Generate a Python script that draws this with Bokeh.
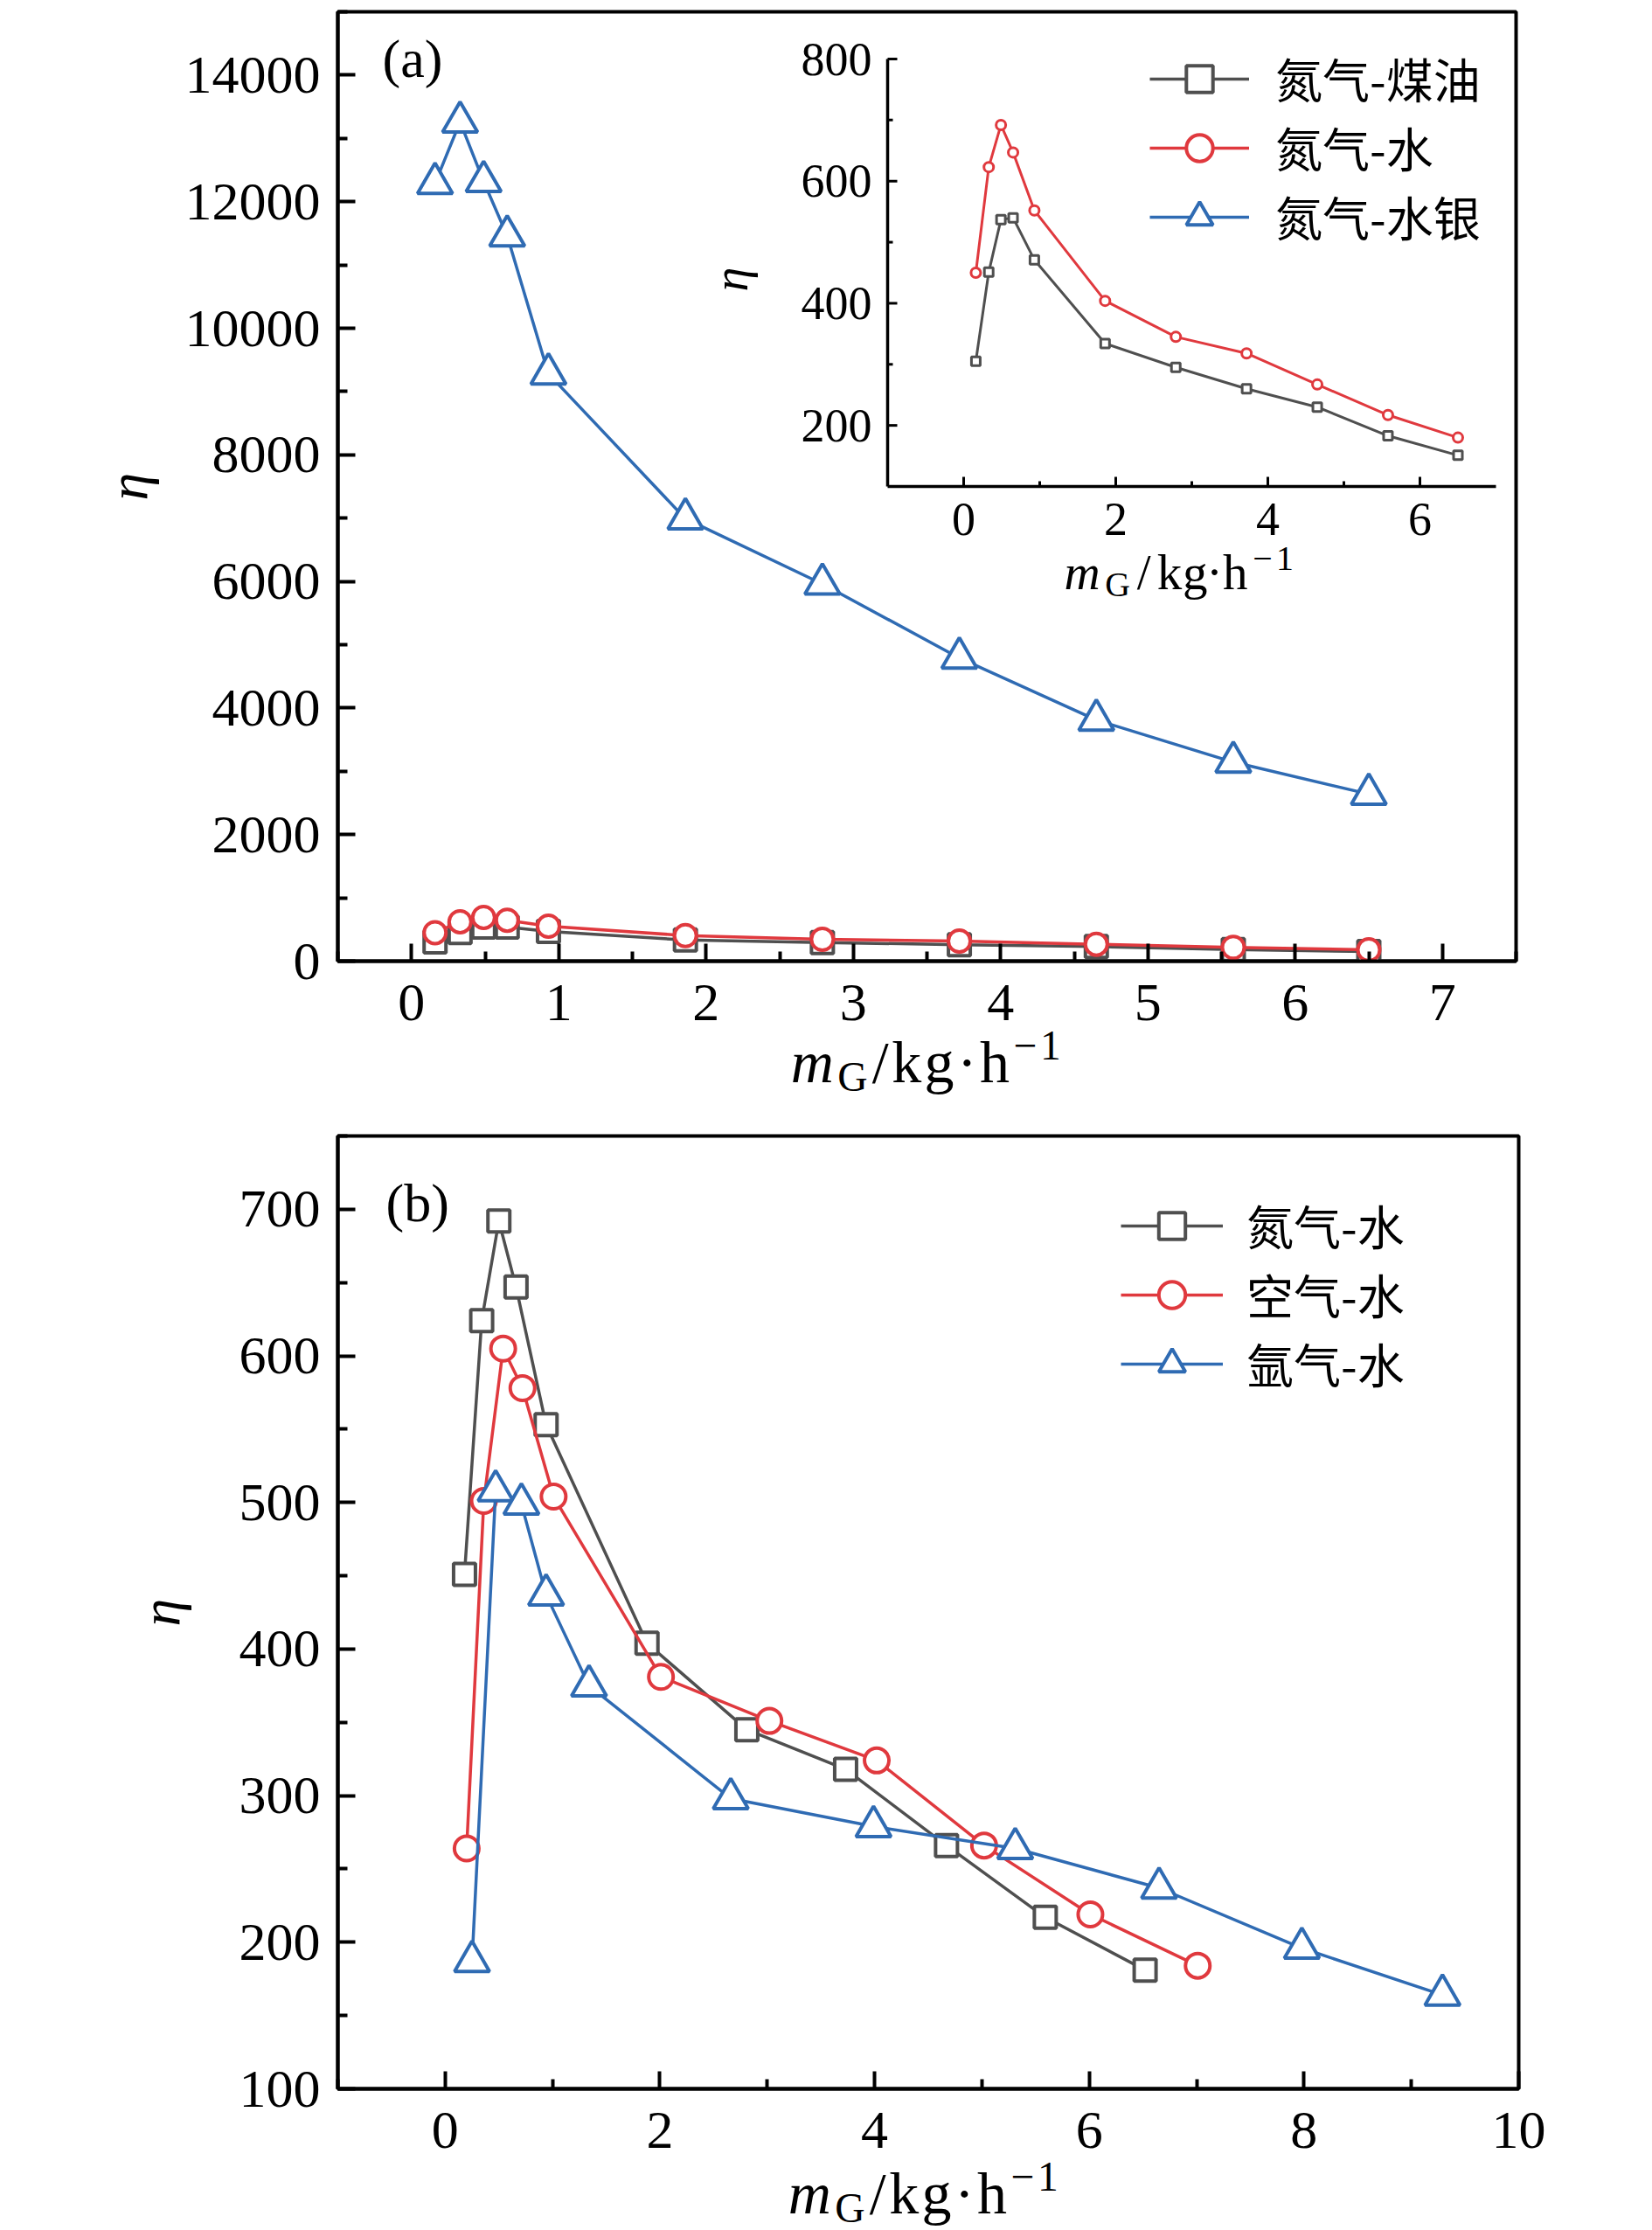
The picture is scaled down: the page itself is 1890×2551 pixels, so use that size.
import numpy as np
from bokeh.plotting import figure
from bokeh.models import Range1d, FixedTicker, Label, Legend, LegendItem, Div
from bokeh.layouts import column
from bokeh.embed import file_html
from bokeh.resources import INLINE
from bokeh.core.properties import value

# ---------------- data ----------------
# panel (a): main plot and inset share these series
mg_a = [0.16, 0.33, 0.49, 0.65, 0.93, 1.86, 2.79, 3.72, 4.65, 5.58, 6.50]
eta_a_kerosene = [305, 451, 537, 540, 471, 334, 295, 260, 230, 183, 151]
eta_a_water = [450, 623, 692, 647, 552, 404, 345, 318, 267, 217, 180]
eta_a_mercury = [12290, 13260, 12320, 11460, 9280, 6990, 5960, 4790, 3810, 3145, 2640]
labels_a = ["氮气-煤油", "氮气-水", "氮气-水银"]

# panel (b)
mg_b_n2 = [0.18, 0.34, 0.50, 0.66, 0.94, 1.88, 2.81, 3.73, 4.67, 5.59, 6.52]
eta_b_n2 = [451, 624, 692, 647, 553, 404, 345, 318, 266, 217, 181]
mg_b_air = [0.20, 0.36, 0.54, 0.72, 1.01, 2.01, 3.02, 4.02, 5.02, 6.01, 7.01]
eta_b_air = [264, 501, 605, 578, 504, 381, 351, 324, 266, 219, 184]
mg_b_ar = [0.25, 0.47, 0.71, 0.94, 1.34, 2.66, 3.99, 5.31, 6.65, 7.98, 9.29]
eta_b_ar = [187, 508, 499, 437, 375, 298, 279, 264, 237, 196, 164]
labels_b = ["氮气-水", "空气-水", "氩气-水"]

# axes / ticks
xlim_a = (-0.5, 7.5)
ylim_a = (0, 15000)
xticks_a = [0, 1, 2, 3, 4, 5, 6, 7]
xminor_a = [-0.5, 0.5, 1.5, 2.5, 3.5, 4.5, 5.5, 6.5, 7.5]
yticks_a = [0, 2000, 4000, 6000, 8000, 10000, 12000, 14000]
yminor_a = [1000, 3000, 5000, 7000, 9000, 11000, 13000, 15000]

inset_xlim = (-1, 7)
inset_ylim = (100, 800)
inset_xticks = [0, 2, 4, 6]
inset_xminor = [1, 3, 5]
inset_yticks = [200, 400, 600, 800]
inset_yminor = [300, 500, 700]

xlim_b = (-1, 10)
ylim_b = (100, 750)
xticks_b = [0, 2, 4, 6, 8, 10]
xminor_b = [-1, 1, 3, 5, 7, 9]
yticks_b = [100, 200, 300, 400, 500, 600, 700]
yminor_b = [150, 250, 350, 450, 550, 650, 750]

# ---------------- style ----------------
GRAY = "#4f4f4f"
RED = "#e0393e"
BLUE = "#2f6bb3"
SERIF = "Liberation Serif"
CJK = "Noto Sans CJK SC"

# page geometry (page pixels; the page template has no body margin)
PAGE_W = 1890
PAGE_BOTTOM = 2551
A_L, A_R, A_T, A_B = 386, 1734, 13, 1099
B_L, B_R, B_T, B_B = 382, 1733, 1299, 2389
BOT_BORDER = 115             # space below each frame for tick labels
LA_TOP, LA_BOT = 1168, 1276  # strip holding the x label of (a)
LB_TOP = 2462                # strip holding the x label of (b)
# inset axes in page pixels
I_L, I_R, I_B, I_T = 1015, 1711, 556, 67


def lin(p0, p1, v0, v1):
    return lambda p: v0 + (p - p0) * (v1 - v0) / (p1 - p0)


ax_ = lin(A_L, A_R, *xlim_a)
ay_ = lin(A_B, A_T, *ylim_a)
bx_ = lin(B_L, B_R, *xlim_b)
by_ = lin(B_B, B_T, *ylim_b)
# inset ranges mapped over the whole frame of (a)
ipx = lin(I_L, I_R, *inset_xlim)
ipy = lin(I_B, I_T, *inset_ylim)
inset_xr = (ipx(A_L), ipx(A_R))
inset_yr = (ipy(A_B), ipy(A_T))


def style(p, xt, xm, yt, ym, ylab_standoff):
    p.xgrid.visible = False
    p.ygrid.visible = False
    p.outline_line_color = "black"
    p.outline_line_width = 4
    p.outline_line_alpha = 1
    p.background_fill_color = "white"
    p.border_fill_color = "white"
    p.border_fill_alpha = 0
    p.xaxis.ticker = FixedTicker(ticks=xt, minor_ticks=xm)
    p.yaxis.ticker = FixedTicker(ticks=yt, minor_ticks=ym)
    for a in (p.xaxis[0], p.yaxis[0]):
        a.axis_line_width = 4
        a.axis_line_color = "black"
        a.major_tick_in = 20
        a.major_tick_out = 0
        a.minor_tick_in = 11
        a.minor_tick_out = 0
        a.major_tick_line_width = 4
        a.minor_tick_line_width = 4
        a.major_tick_line_color = "black"
        a.minor_tick_line_color = "black"
        a.major_label_text_font = SERIF
        a.major_label_text_font_size = "62px"
        a.major_label_text_color = "black"
    p.xaxis[0].major_label_standoff = 27
    p.yaxis[0].major_label_standoff = 20
    y = p.yaxis[0]
    y.axis_label = "η"
    y.axis_label_text_font = SERIF
    y.axis_label_text_font_style = "italic"
    y.axis_label_text_font_size = "64px"
    y.axis_label_text_color = "black"
    y.axis_label_standoff = ylab_standoff


# advance widths (em) of the characters of the label  m_G / kg·h^-1
ADV = {"m": 0.878, "G": 0.785, "/": 0.5, "k": 0.528, "g": 0.5, "·": 0.278,
       "h": 0.556, "−": 0.778, "1": 0.5}


def inset_mass_flow_label(p, cx, base, F):
    """Label inside the frame of (a), placed char by char (baseline given in page px)."""
    s = 0.7 * F
    chars = [("m", F, "italic", 0.0), ("G", s, "normal", 0.15 * F),
             ("/", F, "normal", 0.0), ("k", F, "normal", 0.0), ("g", F, "normal", 0.0),
             ("·", F, "normal", 0.0), ("h", F, "normal", 0.0),
             ("−", s, "normal", -0.36 * F), ("1", s, "normal", -0.36 * F)]
    total = sum(ADV[c] * sz for c, sz, st, dy in chars)
    x = cx - total / 2
    for c, sz, st, dy in chars:
        w = ADV[c] * sz
        p.add_layout(Label(x=ax_(x + w / 2), y=ay_(base + dy - 0.34 * sz), text=c,
                           text_font=SERIF, text_font_size=f"{sz:.1f}px",
                           text_font_style=st, text_align="center",
                           text_baseline="middle", text_color="black"))
        x += w


def label_div(top, bottom, prev_bottom, cx, base, F):
    """HTML strip below a panel holding  m_G/kg·h^-1  as real text."""
    asc = 0.8375 * F  # baseline position inside a line box with line-height 1
    html = (
        f'<div style="position:relative;width:{PAGE_W}px;height:{bottom - top}px;">'
        f'<span style="position:absolute;left:{cx}px;top:{base - top - asc:.1f}px;'
        f'transform:translateX(-50%);font-family:\'{SERIF}\';font-size:{F}px;'
        f'letter-spacing:0.05em;line-height:1;white-space:nowrap;color:#000;">'
        f'<i>m</i><span style="font-size:0.7em;position:relative;top:0.22em;'
        f'margin-left:0.02em;margin-right:0.04em">G</span>/kg·h'
        f'<span style="font-size:0.7em;position:relative;top:-0.55em;margin-left:0.03em">−1</span>'
        f'</span></div>'
    )
    return Div(text=html, width=PAGE_W, height=bottom - top,
               margin=(top - prev_bottom, 0, 0, 0), styles={"overflow": "visible"})


def series(p, x, y, color, marker, size, lw=3.5, mlw=4, **kw):
    ln = p.line(x, y, line_color=color, line_width=lw, **kw)
    sc = p.scatter(x, y, marker=marker, size=size, fill_color="white",
                   line_color=color, line_width=mlw, **kw)
    return ln, sc


def legend(items, loc, gw, st):
    leg = Legend(items=items, location=loc)
    leg.label_text_font = CJK
    leg.label_text_font_size = "54px"
    leg.label_text_color = "black"
    leg.label_text_baseline = "middle"
    leg.glyph_width = gw
    leg.glyph_height = 76
    leg.label_height = 76
    leg.label_standoff = st
    leg.spacing = 0
    leg.padding = 0
    leg.margin = 0
    leg.border_line_alpha = 0
    leg.background_fill_alpha = 0
    return leg


# ---------------- panel (a) ----------------
pa = figure(frame_width=A_R - A_L, frame_height=A_B - A_T,
            min_border_left=A_L, min_border_right=PAGE_W - A_R,
            min_border_top=A_T, min_border_bottom=BOT_BORDER,
            x_range=Range1d(*xlim_a), y_range=Range1d(*ylim_a),
            output_backend="svg", toolbar_location=None)
style(pa, xticks_a, xminor_a, yticks_a, yminor_a, 27)
pa.extra_x_ranges = {"ix": Range1d(*inset_xr)}
pa.extra_y_ranges = {"iy": Range1d(*inset_yr)}

ga = series(pa, mg_a, eta_a_kerosene, GRAY, "square", 25)
ra = series(pa, mg_a, eta_a_water, RED, "circle", 25)
ba = series(pa, mg_a, eta_a_mercury, BLUE, "triangle", 40)

# inset data
ik = dict(x_range_name="ix", y_range_name="iy")
series(pa, mg_a, eta_a_kerosene, GRAY, "square", 10, lw=3, mlw=3, **ik)
series(pa, mg_a, eta_a_water, RED, "circle", 11, lw=3, mlw=3, **ik)

# inset axes
pa.segment(x0=[inset_xlim[0], inset_xlim[0]], y0=[inset_ylim[0], inset_ylim[0]],
           x1=[inset_xlim[0], inset_xlim[1]], y1=[inset_ylim[1], inset_ylim[0]],
           line_color="black", line_width=3.5, **ik)
pa.ray(x=inset_xticks, y=[inset_ylim[0]] * len(inset_xticks), length=11,
       length_units="screen", angle=np.pi / 2, line_color="black", line_width=3, **ik)
pa.ray(x=inset_xminor, y=[inset_ylim[0]] * len(inset_xminor), length=6,
       length_units="screen", angle=np.pi / 2, line_color="black", line_width=3, **ik)
pa.ray(x=[inset_xlim[0]] * len(inset_yticks), y=inset_yticks, length=11,
       length_units="screen", angle=0, line_color="black", line_width=3, **ik)
pa.ray(x=[inset_xlim[0]] * len(inset_yminor), y=inset_yminor, length=6,
       length_units="screen", angle=0, line_color="black", line_width=3, **ik)
pa.text(x=inset_xticks, y=[ipy(593)] * len(inset_xticks), text=[str(t) for t in inset_xticks],
        text_font=value(SERIF), text_font_size="54px", text_align="center",
        text_baseline="middle", text_color="black", **ik)
pa.text(x=[ipx(I_L - 18)] * len(inset_yticks), y=inset_yticks, text=[str(t) for t in inset_yticks],
        text_font=value(SERIF), text_font_size="54px", text_align="right",
        text_baseline="middle", text_color="black", **ik)

# texts of (a)
pa.add_layout(Label(x=ax_(437), y=ay_(66), text="(a)", text_font=SERIF, text_font_size="62px",
                    text_align="left", text_baseline="middle", text_color="black"))
pa.add_layout(Label(x=ax_(835), y=ay_(319), text="η", text_font=SERIF, text_font_size="56px",
                    text_font_style="italic", angle=np.pi / 2, text_align="center",
                    text_baseline="middle", text_color="black"))
inset_mass_flow_label(pa, 1346, 673, 57)

pa.add_layout(legend([LegendItem(label=labels_a[0], renderers=list(ga)),
                      LegendItem(label=labels_a[1], renderers=list(ra)),
                      LegendItem(label=labels_a[2], renderers=list(ba))],
                     (1315 - A_L, 812), 114, 30))

# x label strip of (a)
la = label_div(LA_TOP, LA_BOT, A_B + BOT_BORDER, 1061, 1238, 68)

# ---------------- panel (b) ----------------
pb = figure(frame_width=B_R - B_L, frame_height=B_B - B_T,
            min_border_left=B_L, min_border_right=PAGE_W - B_R,
            min_border_top=B_T - LA_BOT, min_border_bottom=BOT_BORDER,
            x_range=Range1d(*xlim_b), y_range=Range1d(*ylim_b),
            output_backend="svg", toolbar_location=None)
style(pb, xticks_b, xminor_b, yticks_b, yminor_b, 52)
gb = series(pb, mg_b_n2, eta_b_n2, GRAY, "square", 25)
rb = series(pb, mg_b_air, eta_b_air, RED, "circle", 28)
bb = series(pb, mg_b_ar, eta_b_ar, BLUE, "triangle", 40)

pb.add_layout(Label(x=bx_(437), y=by_(1375), text="(b)", text_font=SERIF, text_font_size="62px",
                    text_align="left", text_baseline="middle", text_color="black"))
pb.add_layout(legend([LegendItem(label=labels_b[0], renderers=list(gb)),
                      LegendItem(label=labels_b[1], renderers=list(rb)),
                      LegendItem(label=labels_b[2], renderers=list(bb))],
                     (1278 - B_L, 790), 117, 27))

lb = label_div(LB_TOP, PAGE_BOTTOM, B_B + BOT_BORDER, 1058, 2532, 68)

layout = column(pa, la, pb, lb, spacing=0)
open("out.html", "w").write(file_html(layout, INLINE))
